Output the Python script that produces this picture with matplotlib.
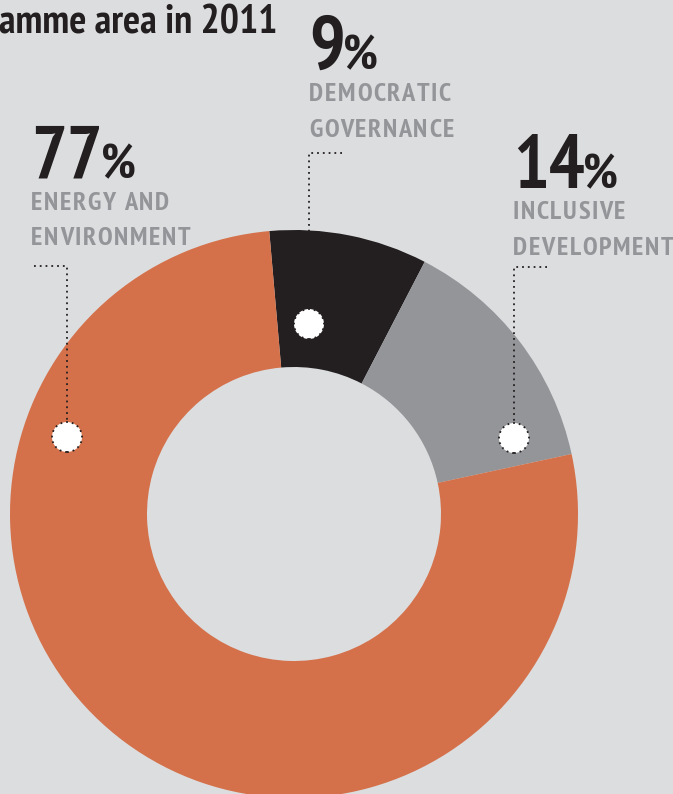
import matplotlib
matplotlib.use("Agg")
import matplotlib.pyplot as plt
from matplotlib.patches import Circle
from matplotlib import font_manager
from matplotlib.font_manager import FontProperties
from matplotlib.ft2font import FT2Font

# 2011 programme split
categories = ["DEMOCRATIC\nGOVERNANCE", "INCLUSIVE\nDEVELOPMENT", "ENERGY AND\nENVIRONMENT"]
shares = [9, 14, 77]
colors = ["#231f20", "#939598", "#d4714a"]

W, H = 673, 794
BG = "#dcdddf"
DARK = "#231f20"
LABEL_GREY = "#939598"

names = {f.name for f in font_manager.fontManager.ttflist}
FONT = next((n for n in ["PT Sans Narrow", "Fira Sans Condensed", "Roboto Condensed",
                         "Liberation Sans Narrow"] if n in names), "DejaVu Sans")
FONT_PATH = font_manager.findfont(FontProperties(family=FONT, weight="bold"))


def py(y):
    # pixel row (top-down) -> data y (bottom-up)
    return H - y


def advance(s, size):
    # horizontal advance of s in pixels at 100 dpi
    f = FT2Font(FONT_PATH)
    f.set_size(size, 100)
    return sum(f.load_char(ord(c)).linearHoriAdvance / 65536 for c in s)


def tracked(ax, x, y, s, size, track, color):
    # draw letter by letter with extra spacing
    f = FT2Font(FONT_PATH)
    f.set_size(size, 100)
    for c in s:
        ax.text(x, y, c, fontfamily=FONT, fontweight="bold", fontsize=size,
                color=color, ha="left", va="baseline")
        x += f.load_char(ord(c)).linearHoriAdvance / 65536 + track


fig = plt.figure(figsize=(W / 100, H / 100), dpi=100)
fig.patch.set_facecolor(BG)
ax = fig.add_axes([0, 0, 1, 1])
ax.set_facecolor(BG)

# donut
cx, cy, r_out, r_in = 294, py(514), 284, 147
ax.pie(shares, colors=colors, startangle=95, counterclock=False,
       radius=r_out, center=(cx, cy),
       wedgeprops=dict(width=r_out - r_in, linewidth=0))

ax.set_xlim(0, W)
ax.set_ylim(0, H)
ax.set_aspect("equal")
ax.axis("off")

# title (cut at left edge)
ax.text(-1, py(33), "amme area in 2011", fontfamily=FONT, fontweight="bold",
        fontsize=29, color=DARK, ha="left", va="baseline")

# label blocks: (x, number baseline, label baselines, leader y, marker center)
layout = [
    (309, 69, (101, 137), 153, (309, 324)),
    (513, 188, (219, 255), 267, (514, 438)),
    (31, 178, (210, 245), 266, (67, 437)),
]

NUM_SIZE, PCT_SIZE, LBL_SIZE = 54, 35, 19

for share, cat, (x, nb, lbs, ly, (mx, my)) in zip(shares, categories, layout):
    num = f"{share}"
    ax.text(x, py(nb), num, fontfamily=FONT, fontweight="bold",
            fontsize=NUM_SIZE, color=DARK, ha="left", va="baseline")
    ax.text(x + advance(num, NUM_SIZE) - 2, py(nb), "%", fontfamily=FONT, fontweight="bold",
            fontsize=PCT_SIZE, color=DARK, ha="left", va="baseline")
    for line, lb in zip(cat.split("\n"), lbs):
        tracked(ax, x, py(lb), line, LBL_SIZE, 1.6, LABEL_GREY)

    # dotted leader: short horizontal, then down to the marker
    if mx > x + 5:
        xs = [x + 3, mx, mx]
    else:
        xs = [mx + 33, mx, mx]
    ax.plot(xs, [py(ly), py(ly), py(my) + 15], color=DARK, linestyle=(0, (1, 2.2)),
            linewidth=1.3, solid_capstyle="round")
    ax.add_patch(Circle((mx, py(my)), 15, facecolor="white", edgecolor=DARK,
                        linestyle=(0, (1, 2.2)), linewidth=1.3, zorder=5))

fig.savefig("out.png", dpi=100, facecolor=BG)
